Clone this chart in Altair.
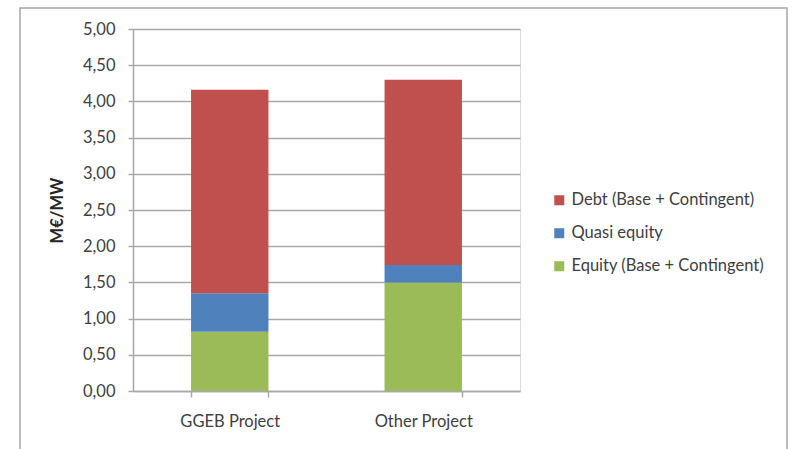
import altair as alt
import pandas as pd

projects = ["GGEB Project", "Other Project"]
series = ["Debt (Base + Contingent)", "Quasi equity", "Equity (Base + Contingent)"]
colors = ["#C0504D", "#4F81BD", "#9BBB59"]
equity = [0.82, 1.50]
quasi = [0.53, 0.24]
debt = [2.81, 2.56]
y_ticks = [0.0, 0.5, 1.0, 1.5, 2.0, 2.5, 3.0, 3.5, 4.0, 4.5, 5.0]

rows = []
for i, p in enumerate(projects):
    rows.append({"project": p, "series": series[2], "value": equity[i], "ord": 0})
    rows.append({"project": p, "series": series[1], "value": quasi[i], "ord": 1})
    rows.append({"project": p, "series": series[0], "value": debt[i], "ord": 2})
df = pd.DataFrame(rows)

FONT = "Lato"
FS = 16.5
TXT = "#404040"
GRID = "#a8a8a8"

bars = alt.Chart(df).mark_bar().encode(
    x=alt.X("project:N", sort=projects,
            scale=alt.Scale(paddingInner=0.6, paddingOuter=0.3),
            axis=alt.Axis(title=None, labelAngle=0, labelFont=FONT, labelFontSize=FS,
                          labelColor=TXT, labelPadding=16, tickBand="extent",
                          tickSize=6, tickColor=GRID, domainColor=GRID, domainWidth=1.5,
                          tickWidth=1.5, grid=False)),
    y=alt.Y("value:Q", stack="zero",
            scale=alt.Scale(domain=[0, 5], nice=False),
            axis=alt.Axis(title="M€/MW", values=y_ticks,
                          labelExpr="replace(format(datum.value, '.2f'), '.', ',')",
                          labelFont=FONT, labelFontSize=FS, labelColor=TXT,
                          labelPadding=13, tickSize=5, tickColor=GRID, tickWidth=1.5,
                          domainColor=GRID, domainWidth=1.5,
                          gridColor=GRID, gridWidth=1.5,
                          titleFont=FONT, titleFontSize=FS, titleFontWeight="bold",
                          titleColor="#262626", titlePadding=17)),
    color=alt.Color("series:N", scale=alt.Scale(domain=series, range=colors),
                    legend=alt.Legend(title=None, orient="none", legendX=418, legendY=163,
                                      symbolType="square", symbolSize=100,
                                      symbolStrokeWidth=0, labelFont=FONT,
                                      labelFontSize=FS, labelColor=TXT,
                                      rowPadding=16, labelOffset=4, labelLimit=300)),
    order=alt.Order("ord:Q", sort="ascending"),
)

border = alt.Chart(pd.DataFrame({"a": [0]})).mark_rect(
    fill=None, stroke="#a6a6a6", strokeWidth=1.5, clip=False
).encode(x=alt.value(-113), x2=alt.value(654), y=alt.value(-21), y2=alt.value(440))

chart = alt.layer(border, bars).properties(
    width=387, height=362,
    autosize=alt.AutoSizeParams(type="none"),
    padding={"left": 133, "top": 29, "right": 274, "bottom": 58},
).configure_view(stroke=None).configure(background="white")

chart.save("out.html", embed_options={"renderer": "svg", "actions": False})
